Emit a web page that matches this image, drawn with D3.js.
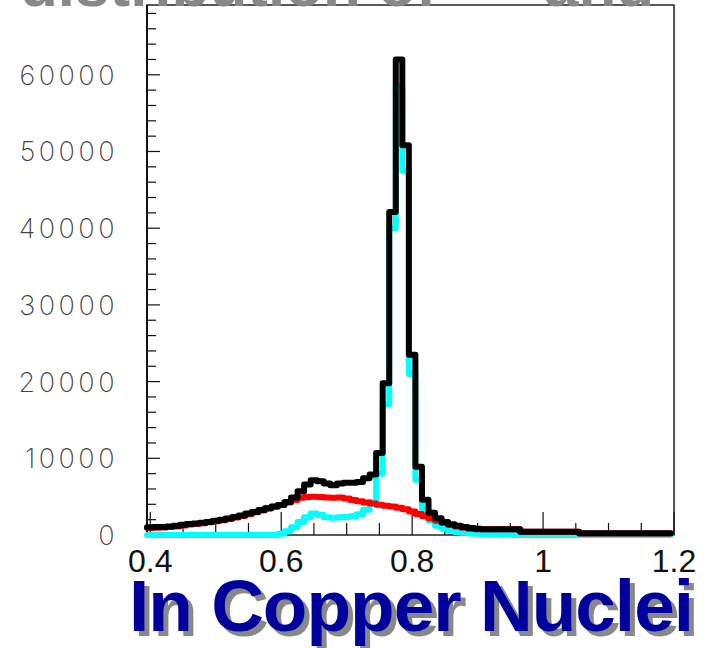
<!DOCTYPE html>
<html>
<head>
<meta charset="utf-8">
<script src="https://cdn.jsdelivr.net/npm/d3@7"></script>
<style>
  body { margin: 0; background: #fff; }
  #graf { width: 704px; height: 648px; }
  .eje-y text { font-family: Inter, 'Liberation Sans', Arial, sans-serif; font-weight: 200; font-size: 27px; fill: #444; letter-spacing: 3.5px; }
  .eje-x text { font-family: 'Liberation Sans', Arial, sans-serif; font-size: 32px; fill: #111; }
</style>
</head>
<body>
<div id="graf"></div>
<script>
// I. Datos (un valor por bin de 0.01, centros 0.40 ... 1.19)
binInicio = 0.395
binAncho = 0.01

total = [1000, 1050, 1050, 1100, 1200, 1350, 1450, 1500, 1600, 1700,
         1850, 2000, 2150, 2350, 2550, 2800, 3000, 3250, 3500, 3700,
         3900, 4300, 4900, 5700, 6600, 7150, 7000, 6700, 6500, 6700,
         6800, 6800, 6900, 7400, 7900, 10700, 19800, 42100, 62000, 50800,
         23500, 8900, 4600, 2900, 2200, 1700, 1400, 1200, 1050, 900,
         800, 750, 750, 750, 750, 750, 750, 430, 430, 430,
         430, 430, 430, 430, 430, 430, 220, 220, 220, 220,
         220, 220, 220, 220, 220, 220, 220, 220, 220, 220]

fondo = [900, 950, 980, 1030, 1120, 1250, 1370, 1430, 1530, 1650,
         1780, 1930, 2080, 2280, 2480, 2720, 2950, 3200, 3450, 3680,
         3900, 4250, 4550, 4850, 4950, 5000, 4950, 4900, 4850, 4900,
         4750, 4550, 4400, 4250, 4100, 3950, 3800, 3700, 3550, 3350,
         3050, 2750, 2450, 2150, 1850, 1550, 1300, 1100, 950, 820,
         760, 740, 740, 740, 740, 740, 740, 420, 420, 420,
         420, 420, 420, 420, 420, 420, 210, 210, 210, 210,
         210, 210, 210, 210, 210, 210, 210, 210, 210, 210]

omega = [0, 0, 0, 0, 0, 0, 0, 0, 0, 0,
         0, 0, 0, 0, 0, 0, 0, 0, 0, 0,
         150, 500, 1000, 1700, 2300, 2800, 2600, 2300, 2250, 2300,
         2350, 2450, 2700, 3300, 4300, 8000, 17000, 40000, 58500, 47500,
         21000, 7200, 3300, 1900, 1200, 800, 550, 400, 300, 200,
         150, 100, 80, 60, 40, 20, 0, 0, 0, 0,
         0, 0, 0, 0, 0, 0, 0, 0, 0, 0,
         0, 0, 0, 0, 0, 0, 0, 0, 0, 0]

xTicks = [0.4, 0.6, 0.8, 1, 1.2]
yTicks = [0, 10000, 20000, 30000, 40000, 50000, 60000]

titulo = 'distribution of'
tituloFin = 'and'
subtitulo = 'In Copper Nuclei'

// II. Configuración
ancho_total = 704
alto_total = 648
marco = { left: 147, right: 674, top: 5, bottom: 535 }

svg = d3.select('#graf').append('svg')
        .attr('width', ancho_total)
        .attr('height', alto_total)

x = d3.scaleLinear()
      .domain([0.395, 1.2])
      .range([marco.left, marco.right])

y = d3.scaleLinear()
      .domain([0, 69100])
      .range([marco.bottom, marco.top])

// marco
svg.append('rect')
   .attr('x', marco.left)
   .attr('y', marco.top)
   .attr('width', marco.right - marco.left)
   .attr('height', marco.bottom - marco.top)
   .attr('fill', 'none')
   .attr('stroke', '#222')
   .attr('stroke-width', 1.5)

// III. Ejes
yMinor = d3.range(0, 69000, 2000)
svg.append('g')
   .selectAll('line')
   .data(yMinor)
   .join('line')
     .attr('x1', marco.left)
     .attr('x2', d => marco.left + (d % 10000 == 0 ? 13 : 9))
     .attr('y1', d => y(d))
     .attr('y2', d => y(d))
     .attr('stroke', '#111')
     .attr('stroke-width', 1.2)

xMinor = d3.range(0.4, 1.2001, 0.05)
svg.append('g')
   .selectAll('line')
   .data(xMinor)
   .join('line')
     .attr('x1', d => x(d))
     .attr('x2', d => x(d))
     .attr('y1', marco.bottom)
     .attr('y2', (d, i) => marco.bottom - (i % 4 == 0 ? 23 : 12))
     .attr('stroke', '#111')
     .attr('stroke-width', 1.2)

svg.append('line')
   .attr('x1', marco.left).attr('x2', marco.left)
   .attr('y1', marco.top).attr('y2', marco.bottom)
   .attr('stroke', '#111')
   .attr('stroke-width', 2)

svg.append('g')
   .attr('class', 'eje-y')
   .selectAll('text')
   .data(yTicks)
   .join('text')
     .attr('x', 118)
     .attr('y', d => y(d) + 10)
     .attr('text-anchor', 'end')
     .text(d => d)

svg.append('g')
   .attr('class', 'eje-x')
   .selectAll('text')
   .data(xTicks)
   .join('text')
     .attr('x', d => x(d))
     .attr('y', 572)
     .attr('text-anchor', 'middle')
     .text(d => d)

// IV. Histogramas
function escalones(valores) {
  pts = valores.map((v, i) => [binInicio + i * binAncho, v])
  pts.push([binInicio + valores.length * binAncho, valores[valores.length - 1]])
  return pts
}

linea = d3.line()
          .x(d => x(Math.min(d[0], 1.2)))
          .y(d => y(d[1]))
          .curve(d3.curveStepAfter)

series = [
  { datos: omega, color: '#00ffff' },
  { datos: fondo, color: '#ff0000' },
  { datos: total, color: '#000000' }
]

svg.append('g')
   .selectAll('path')
   .data(series)
   .join('path')
     .attr('d', d => linea(escalones(d.datos)))
     .attr('fill', 'none')
     .attr('stroke', d => d.color)
     .attr('stroke-width', 6)
     .attr('stroke-linejoin', 'round')
     .attr('stroke-linecap', 'round')

// V. Títulos con sombra
function textoSombra(txt, px, py, size, espacio, desp) {
  g = svg.append('g')
         .style('font-family', "'Liberation Sans', Arial, sans-serif")
         .style('font-weight', 'bold')
         .style('font-size', size + 'px')
         .style('letter-spacing', espacio + 'px')
  g.append('text')
   .attr('x', px + desp).attr('y', py + desp)
   .attr('fill', '#888')
   .text(txt)
  g.append('text')
   .attr('x', px).attr('y', py)
   .attr('fill', '#00009c')
   .text(txt)
}

// el título de arriba queda cortado: sólo asoma su sombra
textoSombra(titulo, 10, -4, 62, 0, 10)
textoSombra(tituloFin, 534, -4, 62, 0, 10)
textoSombra(subtitulo, 129, 631, 73, -1, 5)
</script>
</body>
</html>
